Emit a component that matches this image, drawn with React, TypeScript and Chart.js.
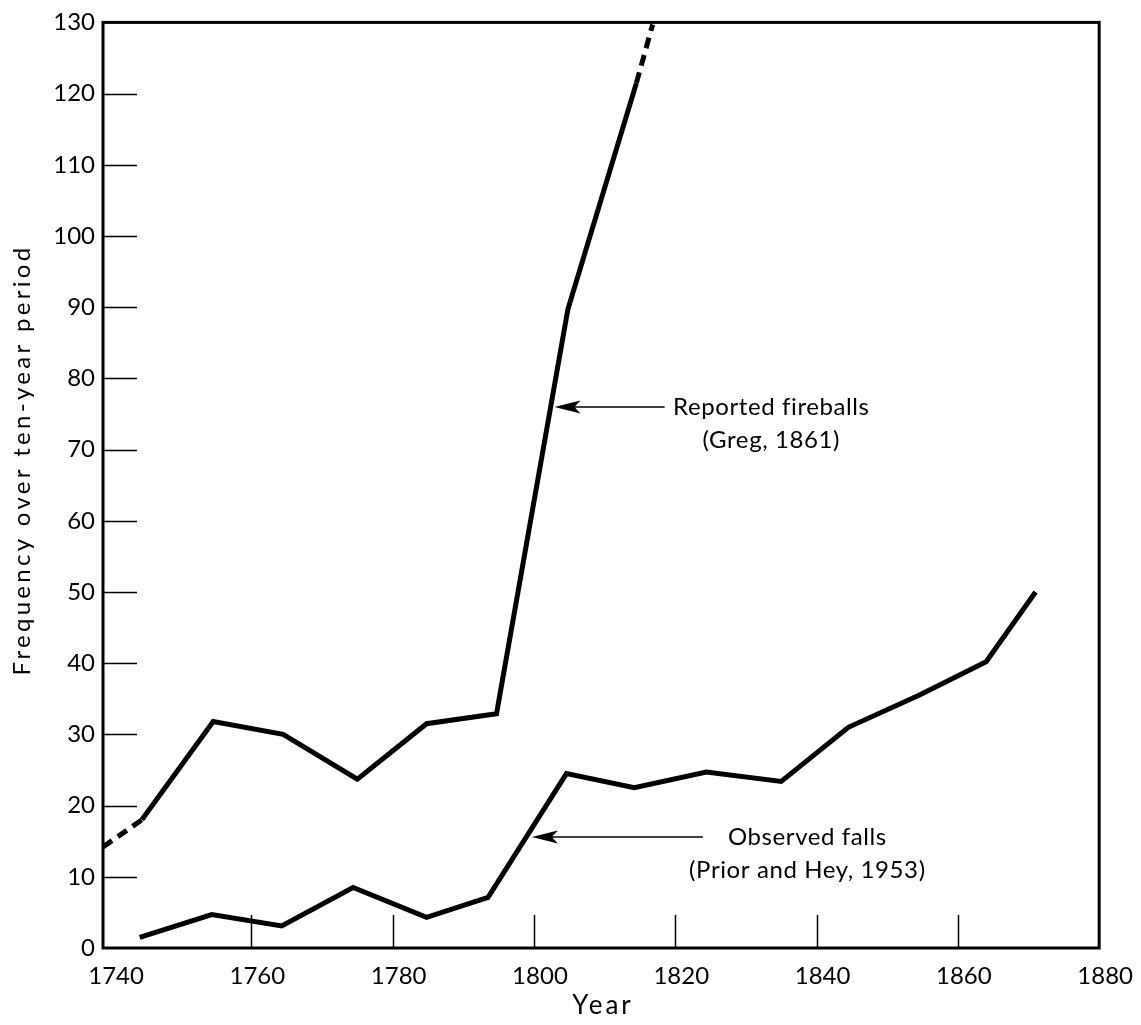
import React, { useEffect, useRef } from "react";
import { Chart, registerables } from "chart.js";

Chart.register(...registerables);

// Reported fireballs (Greg, 1861) – first and last segments dashed
const fireballYears = [1739, 1744.5, 1754.6, 1764.5, 1775.0, 1784.8, 1794.7, 1804.8, 1814.5, 1816.8];
const fireballValues = [14.2, 18.0, 31.8, 30.0, 23.7, 31.5, 32.9, 89.7, 121.5, 129.7];

// Observed falls (Prior and Hey, 1953)
const fallsYears = [1744.2, 1754.4, 1764.3, 1774.4, 1784.8, 1793.5, 1804.6, 1814.2, 1824.4, 1835.0, 1844.5, 1854.5, 1864.0, 1871.0];
const fallsValues = [1.5, 4.7, 3.1, 8.5, 4.3, 7.1, 24.5, 22.5, 24.7, 23.4, 31.0, 35.5, 40.2, 50.0];

const xTickLabels = [1740, 1760, 1780, 1800, 1820, 1840, 1860, 1880];
const xInnerTicks = [1760, 1780, 1800, 1820, 1840, 1860];
const yInnerTicks = [10, 20, 30, 40, 50, 60, 70, 80, 90, 100, 110, 120];

const xTitle = "Year";
const yTitle = "Frequency over ten-year period";

// annotations: [tipYear, tailYear, arrowValue, textYear, line1Value, line2Value]
const fireballLabel = ["Reported fireballs", "(Greg, 1861)"];
const fireballArrow = [1802.9, 1818.5, 76, 1833.6, 76, 71.3];
const fallsLabel = ["Observed falls", "(Prior and Hey, 1953)"];
const fallsArrow = [1799.7, 1823.9, 15.6, 1838.7, 15.6, 10.9];

const FONT = "Lato, 'DejaVu Sans', sans-serif";

const framePlugin = {
  id: "frame",
  afterDatasetsDraw(chart: any) {
    const { ctx, chartArea, scales } = chart;
    const xs = scales.x;
    const ys = scales.y;
    ctx.save();
    ctx.strokeStyle = "#000";
    ctx.fillStyle = "#000";
    // inner ticks
    ctx.lineWidth = 1.5;
    ctx.beginPath();
    yInnerTicks.forEach((v) => {
      const py = Math.round(ys.getPixelForValue(v)) + 0.5;
      ctx.moveTo(chartArea.left, py);
      ctx.lineTo(chartArea.left + 34, py);
    });
    xInnerTicks.forEach((v) => {
      const px = Math.round(xs.getPixelForValue(v)) + 0.5;
      ctx.moveTo(px, chartArea.bottom);
      ctx.lineTo(px, chartArea.bottom - 33);
    });
    ctx.stroke();
    // frame
    ctx.lineWidth = 3;
    ctx.strokeRect(chartArea.left, chartArea.top, chartArea.right - chartArea.left, chartArea.bottom - chartArea.top);

    const drawAnn = (lines: string[], a: number[]) => {
      const [tip, tail, val, tx, l1, l2] = a;
      const x1 = xs.getPixelForValue(tip);
      const x2 = xs.getPixelForValue(tail);
      const y = ys.getPixelForValue(val);
      ctx.lineWidth = 1.5;
      ctx.beginPath();
      ctx.moveTo(x1 + 10, y);
      ctx.lineTo(x2, y);
      ctx.stroke();
      ctx.beginPath();
      ctx.moveTo(x1, y);
      ctx.lineTo(x1 + 26, y - 6.5);
      ctx.lineTo(x1 + 20, y);
      ctx.lineTo(x1 + 26, y + 6.5);
      ctx.closePath();
      ctx.fill();
      ctx.font = `24px ${FONT}`;
      (ctx as any).letterSpacing = "0.6px";
      ctx.textAlign = "center";
      ctx.textBaseline = "middle";
      const cx = xs.getPixelForValue(tx);
      ctx.fillText(lines[0], cx, ys.getPixelForValue(l1));
      ctx.fillText(lines[1], cx, ys.getPixelForValue(l2));
      (ctx as any).letterSpacing = "0px";
    };
    drawAnn(fireballLabel, fireballArrow);
    drawAnn(fallsLabel, fallsArrow);

    // axis titles
    ctx.textAlign = "center";
    ctx.textBaseline = "middle";
    ctx.font = `26px ${FONT}`;
    (ctx as any).letterSpacing = "3px";
    ctx.fillText(xTitle, (chartArea.left + chartArea.right) / 2 + 2, 1006);
    ctx.save();
    ctx.translate(22, 460);
    ctx.rotate(-Math.PI / 2);
    ctx.font = `24px ${FONT}`;
    (ctx as any).letterSpacing = "3.3px";
    ctx.fillText(yTitle, 0, 0);
    ctx.restore();
    (ctx as any).letterSpacing = "0px";
    ctx.restore();
  },
};

export default function App() {
  const ref = useRef<HTMLCanvasElement | null>(null);
  useEffect(() => {
    if (!ref.current) return;
    const lastIdx = fireballYears.length - 1;
    const chart = new Chart(ref.current, {
      type: "line",
      data: {
        datasets: [
          {
            label: "Reported fireballs",
            data: fireballYears.map((x, i) => ({ x, y: fireballValues[i] })),
            borderColor: "#000",
            borderWidth: 5,
            pointRadius: 0,
            borderJoinStyle: "miter",
            fill: false,
            segment: {
              borderDash: (c: any) =>
                c.p0DataIndex === 0 || c.p1DataIndex === lastIdx ? [11, 7] : undefined,
            },
          },
          {
            label: "Observed falls",
            data: fallsYears.map((x, i) => ({ x, y: fallsValues[i] })),
            borderColor: "#000",
            borderWidth: 5,
            pointRadius: 0,
            borderJoinStyle: "miter",
            fill: false,
          },
        ],
      },
      options: {
        responsive: false,
        animation: false,
        devicePixelRatio: 1,
        layout: { padding: { top: 16, right: 41, left: 0, bottom: 0 } },
        plugins: { legend: { display: false }, tooltip: { enabled: false } },
        scales: {
          x: {
            type: "linear",
            min: 1739,
            max: 1880,
            afterBuildTicks: (s: any) => {
              s.ticks = xTickLabels.map((v) => ({ value: v }));
            },
            afterFit: (s: any) => {
              s.height = 77;
            },
            grid: { display: false, drawTicks: false },
            border: { display: false },
            ticks: {
              color: "#000",
              font: { family: FONT, size: 24 },
              padding: 14,
              labelOffset: 6,
              maxRotation: 0,
              autoSkip: false,
              callback: (v: any) => String(v),
            },
            title: { display: false },
          },
          y: {
            type: "linear",
            min: 0,
            max: 130,
            afterFit: (s: any) => {
              s.width = 103;
            },
            grid: { display: false, drawTicks: false },
            border: { display: false },
            ticks: {
              stepSize: 10,
              color: "#000",
              font: { family: FONT, size: 24 },
              padding: 8,
              callback: (v: any) => String(v),
            },
            title: { display: false },
          },
        },
      },
      plugins: [framePlugin],
    } as any);
    return () => chart.destroy();
  }, []);
  return (
    <div style={{ position: "absolute", left: 0, top: 0, width: 1141, height: 1025, background: "#fff" }}>
      <canvas ref={ref} width={1141} height={1025} />
    </div>
  );
}
